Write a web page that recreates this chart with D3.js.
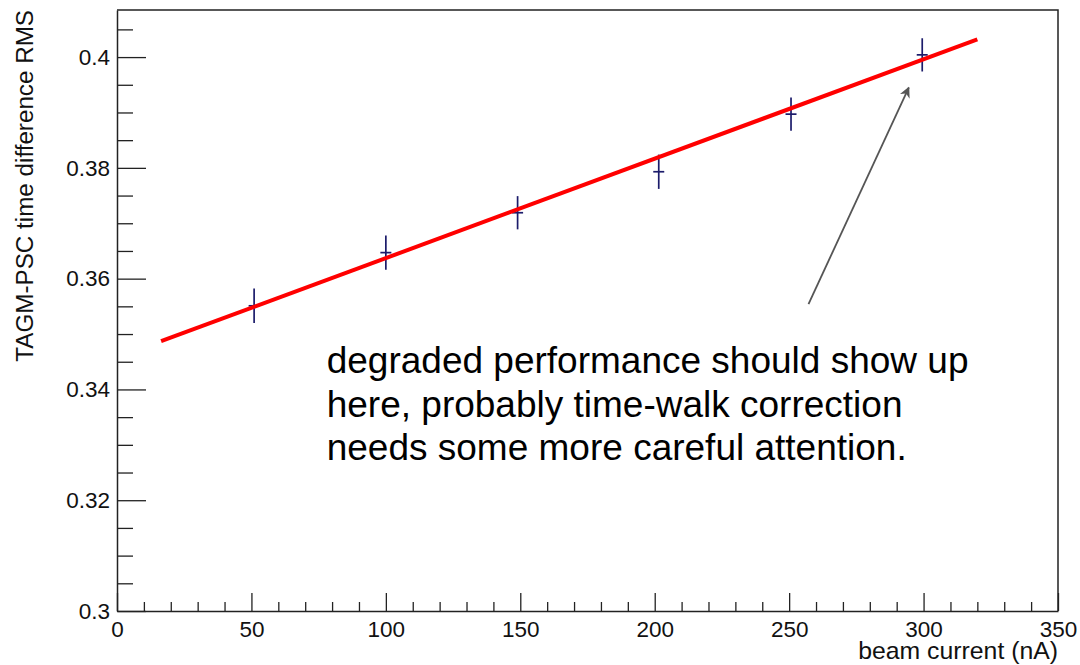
<!DOCTYPE html>
<html>
<head>
<meta charset="utf-8">
<script src="https://cdn.jsdelivr.net/npm/d3@7"></script>
<style>
  html, body { margin: 0; padding: 0; background: #fff; }
  svg { display: block; font-family: "Liberation Sans", Arial, Helvetica, sans-serif; }
</style>
</head>
<body>
<svg id="chart" width="1080" height="665"></svg>
<script>
// Measured RMS of the TAGM-PSC time difference versus beam current
const beamCurrent = [51.0, 100.0, 149.0, 201.5, 250.7, 299.5];
const rms         = [0.3551, 0.3647, 0.3719, 0.3793, 0.3897, 0.4004];
const rmsErr      = [0.0031, 0.0031, 0.0030, 0.0031, 0.0030, 0.0030];

// Linear fit: rms = p0 + p1 * current, drawn over its fit range
const fitParams = [0.34576, 0.0001795];
const fitRange  = [16.4, 320];

// Axis ticks
const xMajorTicks = [0, 50, 100, 150, 200, 250, 300, 350];
const yMajorTicks = [0.30, 0.32, 0.34, 0.36, 0.38, 0.40];
const yTickLabels = ["0.3", "0.32", "0.34", "0.36", "0.38", "0.4"];

// Annotation text and the arrow it points with (data coordinates)
const noteLines = [
  "degraded performance should show up",
  "here, probably time-walk correction",
  "needs some more careful attention."
];
const arrowFrom = [257.2, 0.3554];
const arrowTo   = [294.5, 0.3945];
const noteAnchor = [78, 0.3429];

const svg = d3.select("#chart");
const frame = { left: 117, right: 1058, top: 10, bottom: 611 };

const x = d3.scaleLinear().domain([0, 350]).range([frame.left, frame.right]);
const y = d3.scaleLinear().domain([0.3, 0.4085]).range([frame.bottom, frame.top]);

const fontSize = 22.5;

// Minor ticks (drawn first, underneath the majors)
const xMinor = d3.range(0, 351, 10).filter(v => v % 50 !== 0);
const yMinor = d3.range(0, 22).map(i => +(0.3 + i * 0.005).toFixed(4))
  .filter(v => Math.abs((v * 1000) % 20) > 1e-6 && v < 0.4085);

svg.append("g")
  .attr("transform", `translate(0,${frame.bottom})`)
  .call(d3.axisBottom(x).tickValues(xMinor).tickSize(-9).tickFormat(""))
  .call(g => g.select(".domain").remove())
  .call(g => g.selectAll("line").attr("stroke", "#222").attr("stroke-width", 1.3));

svg.append("g")
  .attr("transform", `translate(${frame.left},0)`)
  .call(d3.axisLeft(y).tickValues(yMinor).tickSize(-16).tickFormat(""))
  .call(g => g.select(".domain").remove())
  .call(g => g.selectAll("line").attr("stroke", "#222").attr("stroke-width", 1.3));

// Major axes
svg.append("g")
  .attr("transform", `translate(0,${frame.bottom})`)
  .call(d3.axisBottom(x).tickValues(xMajorTicks).tickSize(-18).tickSizeOuter(0).tickPadding(10)
    .tickFormat(d3.format("d")))
  .call(g => g.select(".domain").attr("stroke", "#222").attr("stroke-width", 1.5))
  .call(g => g.selectAll("line").attr("stroke", "#222").attr("stroke-width", 1.3))
  .call(g => g.selectAll("text").attr("font-size", fontSize).attr("fill", "#111")
    .attr("font-family", "Liberation Sans, Arial, sans-serif"));

svg.append("g")
  .attr("transform", `translate(${frame.left},0)`)
  .call(d3.axisLeft(y).tickValues(yMajorTicks).tickSize(-29).tickSizeOuter(0).tickPadding(7)
    .tickFormat((d, i) => yTickLabels[i]))
  .call(g => g.select(".domain").attr("stroke", "#222").attr("stroke-width", 1.5))
  .call(g => g.selectAll("line").attr("stroke", "#222").attr("stroke-width", 1.3))
  .call(g => g.selectAll("text").attr("font-size", fontSize).attr("fill", "#111")
    .attr("font-family", "Liberation Sans, Arial, sans-serif"));

// Top and right frame edges
svg.append("path")
  .attr("d", `M${x(0)},${y(0.4085)}H${x(350)}V${y(0.3)}`)
  .attr("fill", "none").attr("stroke", "#222").attr("stroke-width", 1.5);

// Axis titles
const yTitle = svg.append("text")
  .attr("transform", `translate(33,${frame.top}) rotate(-90)`)
  .attr("text-anchor", "end")
  .attr("font-size", 20).attr("fill", "#111")
  .text("TAGM-PSC time difference RMS");
yTitle.attr("font-size", 20 * 352 / yTitle.node().getComputedTextLength());

const xTitle = svg.append("text")
  .attr("x", frame.right).attr("y", 659)
  .attr("text-anchor", "end")
  .attr("font-size", 20).attr("fill", "#111")
  .text("beam current (nA)");
xTitle.attr("font-size", 20 * 200 / xTitle.node().getComputedTextLength());

// Data points with error bars
const pts = beamCurrent.map((c, i) => ({ c, v: rms[i], e: rmsErr[i] }));
const marks = svg.append("g").attr("stroke", "#1c1c6b").attr("stroke-width", 1.7);
marks.selectAll(".ebar").data(pts).join("line")
  .attr("x1", d => x(d.c)).attr("x2", d => x(d.c))
  .attr("y1", d => y(d.v - d.e)).attr("y2", d => y(d.v + d.e));
marks.selectAll(".hbar").data(pts).join("line")
  .attr("x1", d => x(d.c) - 5.5).attr("x2", d => x(d.c) + 5.5)
  .attr("y1", d => y(d.v)).attr("y2", d => y(d.v));

// Fit line
const fit = c => fitParams[0] + fitParams[1] * c;
svg.append("path")
  .datum(fitRange)
  .attr("d", d3.line().x(c => x(c)).y(c => y(fit(c))))
  .attr("fill", "none").attr("stroke", "#ff0000").attr("stroke-width", 4);

// Annotation arrow
const defs = svg.append("defs");
defs.append("marker")
  .attr("id", "arrowhead").attr("viewBox", "0 0 10 10")
  .attr("refX", 9).attr("refY", 5)
  .attr("markerWidth", 6).attr("markerHeight", 6)
  .attr("markerUnits", "strokeWidth")
  .attr("orient", "auto")
  .append("path").attr("d", "M0,0 L10,5 L0,10 L3,5 Z").attr("fill", "#555");

svg.append("line")
  .attr("x1", x(arrowFrom[0])).attr("y1", y(arrowFrom[1]))
  .attr("x2", x(arrowTo[0])).attr("y2", y(arrowTo[1]))
  .attr("stroke", "#555").attr("stroke-width", 1.8)
  .attr("marker-end", "url(#arrowhead)");

// Annotation text
const note = svg.append("text")
  .attr("x", x(noteAnchor[0])).attr("y", y(noteAnchor[1]))
  .attr("font-size", 30).attr("fill", "#000");
note.selectAll("tspan").data(noteLines).join("tspan")
  .attr("x", x(noteAnchor[0]))
  .attr("dy", (d, i) => i === 0 ? 0 : 43.4)
  .text(d => d);
const firstW = note.select("tspan").node().getComputedTextLength();
note.attr("font-size", 30 * 642 / firstW);
</script>
</body>
</html>
